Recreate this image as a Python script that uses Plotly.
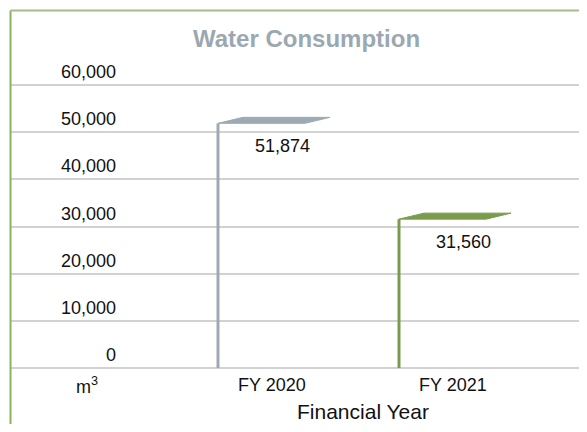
import plotly.graph_objects as go

categories = ["FY 2020", "FY 2021"]
values = [51874, 31560]
value_labels = ["51,874", "31,560"]
bar_colors = ["#9eaab3", "#7b9b4c"]
y_ticks = [0, 10000, 20000, 30000, 40000, 50000, 60000]
y_tick_labels = ["0", "10,000", "20,000", "30,000", "40,000", "50,000", "60,000"]

OFF = 8  # page body margin in the browser
W, H = 587 - OFF, 432 - 2 * OFF

def P(p):
    return p - OFF

left_px = P(11)
plot_top, plot_bot = P(80), P(376)
ML, MR, MT, MB = left_px, 0, plot_top, H - plot_bot
plot_w = W - ML - MR
plot_h = H - MT - MB

px_per_cat = 181.0
cat0_px = P(272)
zero_px = P(368)
top_px = P(85)
px_per_unit_y = (zero_px - top_px) / 60000.0

x0 = -(cat0_px - ML) / px_per_cat
x1 = x0 + plot_w / px_per_cat
y0 = -(plot_bot - zero_px) / px_per_unit_y
y1 = 60000 + (top_px - plot_top) / px_per_unit_y

def dx(px):
    return px / px_per_cat

def dy(px):
    return px / px_per_unit_y

def paper_x(p):
    return (P(p) - ML) / plot_w

def paper_y(p):
    return (plot_bot - P(p)) / plot_h

font = "Liberation Sans, Arial, sans-serif"
txt = "#111111"
fig = go.Figure()

for i, (v, c) in enumerate(zip(values, bar_colors)):
    xl = i - dx(54)
    fig.add_trace(go.Scatter(x=[xl, xl], y=[0, v], mode="lines",
                             line=dict(color=c, width=3), hoverinfo="skip",
                             showlegend=False, cliponaxis=False))
    fig.add_trace(go.Scatter(
        x=[xl, xl + dx(25), xl + dx(112), xl + dx(87), xl],
        y=[v, v + dy(6), v + dy(6), v, v],
        mode="lines", fill="toself", fillcolor=c,
        line=dict(color=c, width=1), hoverinfo="skip", showlegend=False))
    fig.add_annotation(x=i + dx(10), y=v, xref="x", yref="y", text=value_labels[i],
                       showarrow=False, yanchor="middle", yshift=-23,
                       font=dict(family=font, size=18, color=txt))
    fig.add_annotation(x=i, y=0, xref="x", yref="y", text=categories[i],
                       showarrow=False, yanchor="middle", yshift=-17,
                       font=dict(family=font, size=18, color=txt))

for t, lab in zip(y_ticks, y_tick_labels):
    fig.add_annotation(x=paper_x(118), y=t, xref="paper", yref="y", text=lab,
                       showarrow=False, xanchor="right", yanchor="middle", yshift=13,
                       font=dict(family=font, size=18, color=txt))

fig.add_annotation(x=paper_x(87), y=0, xref="paper", yref="y",
                   text="m<sup>3</sup>",
                   showarrow=False, xanchor="center", yanchor="middle", yshift=-17,
                   font=dict(family=font, size=18, color=txt))
fig.add_annotation(x=sum(range(len(categories))) / len(categories), y=0, xref="x", yref="y",
                   text="Financial Year", showarrow=False, yanchor="middle", yshift=-43,
                   font=dict(family=font, size=21, color=txt))
fig.add_annotation(x=paper_x(306), y=paper_y(38), xref="paper", yref="paper",
                   text="<b>Water Consumption</b>", showarrow=False,
                   xanchor="center", yanchor="middle",
                   font=dict(family=font, size=24, color="#9ba8b1"))

border = "#8db15c"
fig.add_shape(type="line", xref="paper", yref="paper",
              x0=paper_x(10.5), x1=paper_x(10.5),
              y0=-0.5, y1=paper_y(10.5),
              line=dict(color=border, width=2))
fig.add_shape(type="line", xref="paper", yref="paper",
              x0=paper_x(10.5), x1=1.2,
              y0=paper_y(10.5), y1=paper_y(10.5),
              line=dict(color="#a6bb8a", width=2))

fig.update_xaxes(range=[x0, x1], showgrid=False, zeroline=False, showticklabels=False,
                 showline=False, ticks="")
fig.update_yaxes(range=[y0, y1], tickvals=y_ticks, showgrid=True, gridcolor="#d2d2d2",
                 gridwidth=2, zeroline=False, showticklabels=False, showline=False, ticks="")

fig.update_layout(width=W, height=H, margin=dict(l=ML, r=MR, t=MT, b=MB),
                  plot_bgcolor="white", paper_bgcolor="white", showlegend=False)

fig.write_html("out.html")
